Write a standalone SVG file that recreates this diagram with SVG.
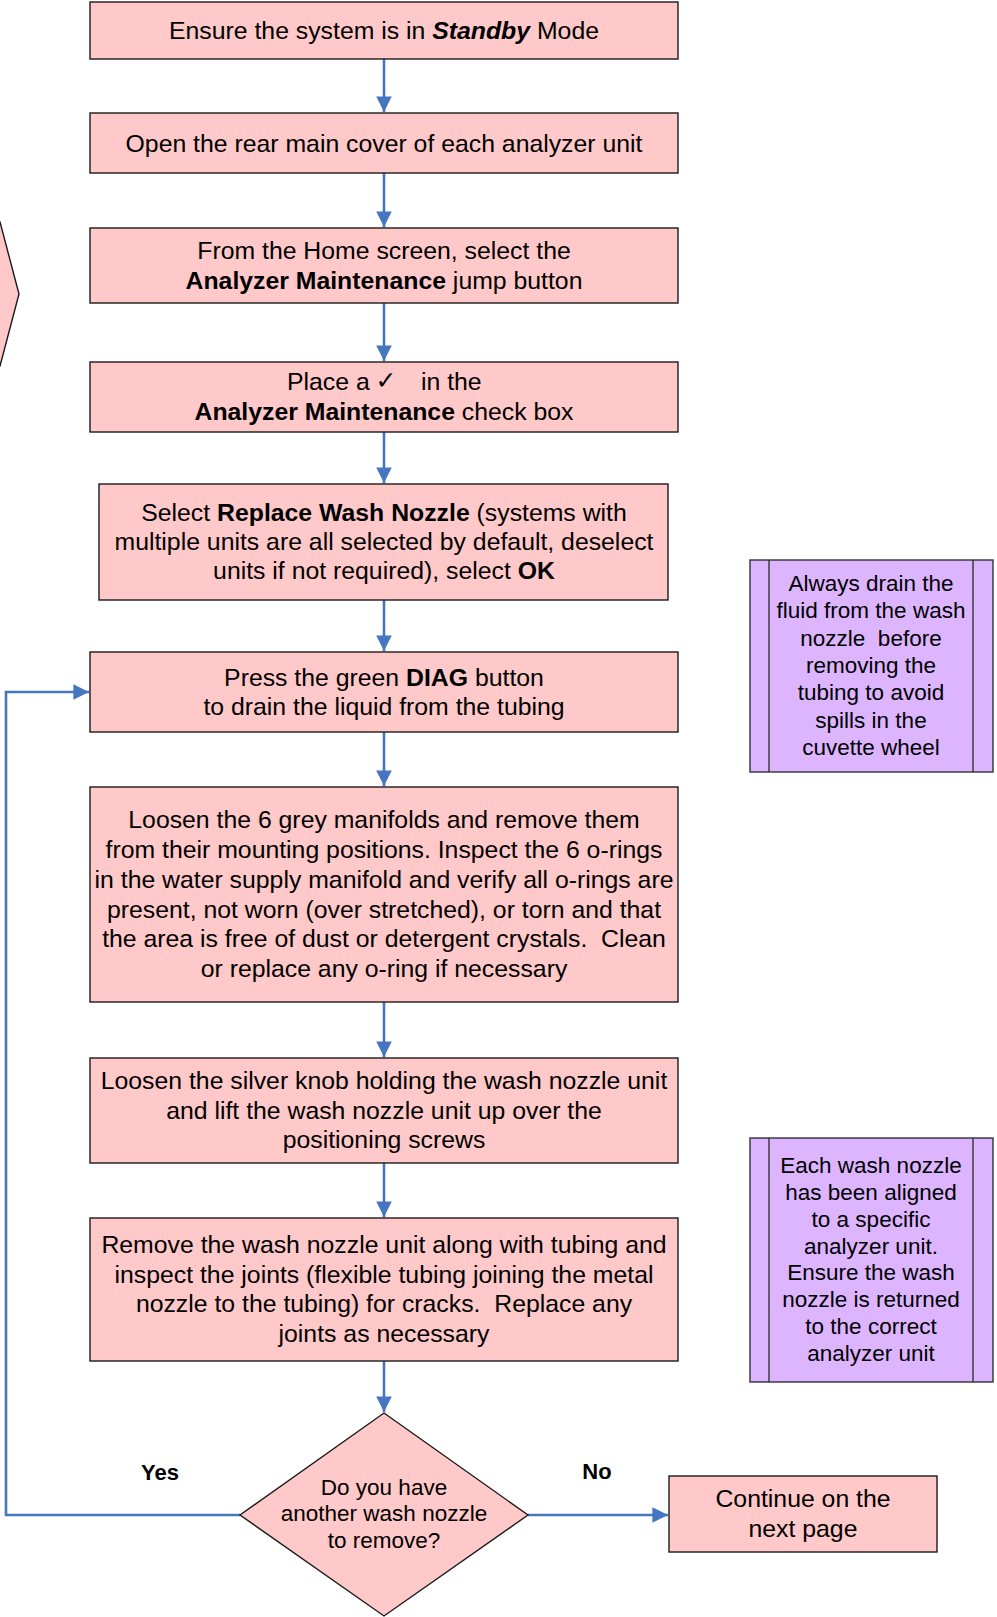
<svg xmlns="http://www.w3.org/2000/svg" width="997" height="1617" viewBox="0 0 997 1617">
<defs>
<style>
.box{fill:#FFC9C9;stroke:#1a1a1a;stroke-width:1.4}
.note{fill:#DDB5FF;stroke:#333;stroke-width:1.4}
.t{font-family:"Liberation Sans",Arial,sans-serif;font-size:24.8px;fill:#000;text-anchor:middle}
.s{font-family:"Liberation Sans",Arial,sans-serif;font-size:22.5px;fill:#000;text-anchor:middle}
.lbl{font-family:"Liberation Sans",Arial,sans-serif;font-size:22px;font-weight:bold;fill:#000;text-anchor:middle}
.b{font-weight:bold}
.c{fill:none;stroke:#4676C0;stroke-width:2.6}
</style>
<marker id="ah" viewBox="0 0 10 10" refX="10" refY="5" markerWidth="6" markerHeight="6" markerUnits="strokeWidth" orient="auto">
<path d="M0,0 L10,5 L0,10 Z" fill="#4676C0"/>
</marker>
</defs>
<rect width="997" height="1617" fill="#fff"/>

<g id="chevron">
<path d="M-10,222 L0,222 L19,294 L0,366 L-10,366 Z" class="box"/>
</g>

<g id="connectors">
<line class="c" x1="384" y1="59" x2="384" y2="112" marker-end="url(#ah)"/>
<line class="c" x1="384" y1="173" x2="384" y2="227" marker-end="url(#ah)"/>
<line class="c" x1="384" y1="303" x2="384" y2="361" marker-end="url(#ah)"/>
<line class="c" x1="384" y1="432" x2="384" y2="483" marker-end="url(#ah)"/>
<line class="c" x1="384" y1="600" x2="384" y2="651" marker-end="url(#ah)"/>
<line class="c" x1="384" y1="732" x2="384" y2="786" marker-end="url(#ah)"/>
<line class="c" x1="384" y1="1002" x2="384" y2="1057" marker-end="url(#ah)"/>
<line class="c" x1="384" y1="1163" x2="384" y2="1217" marker-end="url(#ah)"/>
<line class="c" x1="384" y1="1361" x2="384" y2="1412" marker-end="url(#ah)"/>
<polyline class="c" points="240,1515 6,1515 6,692 89,692" marker-end="url(#ah)"/>
<line class="c" x1="528" y1="1515" x2="668" y2="1515" marker-end="url(#ah)"/>
</g>

<g id="n1">
<rect class="box" x="90" y="2" width="588" height="57"/>
<text class="t" x="384" y="38.5">Ensure the system is in <tspan class="b" font-style="italic">Standby</tspan> Mode</text>
</g>
<g id="n2">
<rect class="box" x="90" y="113" width="588" height="60"/>
<text class="t" x="384" y="152">Open the rear main cover of each analyzer unit</text>
</g>
<g id="n3">
<rect class="box" x="90" y="228" width="588" height="75"/>
<text class="t" x="384" y="259">From the Home screen, select the</text>
<text class="t" x="384" y="289"><tspan class="b">Analyzer Maintenance</tspan> jump button</text>
</g>
<g id="n4">
<rect class="box" x="90" y="362" width="588" height="70"/>
<text class="t" x="287" y="390" style="text-anchor:start">Place a</text>
<text class="t" x="386" y="389" style="font-family:'DejaVu Sans',sans-serif;font-size:25px;font-weight:bold">✓</text>
<text class="t" x="421" y="390" style="text-anchor:start">in the</text>
<text class="t" x="384" y="420"><tspan class="b">Analyzer Maintenance</tspan> check box</text>
</g>
<g id="n5">
<rect class="box" x="99" y="484" width="569" height="116"/>
<text class="t" x="384" y="521">Select <tspan class="b">Replace Wash Nozzle</tspan> (systems with</text>
<text class="t" x="384" y="550">multiple units are all selected by default, deselect</text>
<text class="t" x="384" y="579">units if not required), select <tspan class="b">OK</tspan></text>
</g>
<g id="n6">
<rect class="box" x="90" y="652" width="588" height="80"/>
<text class="t" x="384" y="686">Press the green <tspan class="b">DIAG</tspan> button</text>
<text class="t" x="384" y="715">to drain the liquid from the tubing</text>
</g>
<g id="n7">
<rect class="box" x="90" y="787" width="588" height="215"/>
<text class="t" x="384" y="828">Loosen the 6 grey manifolds and remove them</text>
<text class="t" x="384" y="858">from their mounting positions. Inspect the 6 o-rings</text>
<text class="t" x="384" y="888">in the water supply manifold and verify all o-rings are</text>
<text class="t" x="384" y="918">present, not worn (over stretched), or torn and that</text>
<text class="t" x="384" y="947" xml:space="preserve">the area is free of dust or detergent crystals.  Clean</text>
<text class="t" x="384" y="977">or replace any o-ring if necessary</text>
</g>
<g id="n8">
<rect class="box" x="90" y="1058" width="588" height="105"/>
<text class="t" x="384" y="1089">Loosen the silver knob holding the wash nozzle unit</text>
<text class="t" x="384" y="1119">and lift the wash nozzle unit up over the</text>
<text class="t" x="384" y="1148">positioning screws</text>
</g>
<g id="n9">
<rect class="box" x="90" y="1218" width="588" height="143"/>
<text class="t" x="384" y="1253">Remove the wash nozzle unit along with tubing and</text>
<text class="t" x="384" y="1283">inspect the joints (flexible tubing joining the metal</text>
<text class="t" x="384" y="1312" xml:space="preserve">nozzle to the tubing) for cracks.  Replace any</text>
<text class="t" x="384" y="1342">joints as necessary</text>
</g>
<g id="decision">
<polygon class="box" points="384,1413 528,1515 384,1616 240,1515"/>
<text class="s" x="384" y="1494.5">Do you have</text>
<text class="s" x="384" y="1521.3">another wash nozzle</text>
<text class="s" x="384" y="1548">to remove?</text>
</g>
<g id="lblYes"><text class="lbl" x="160" y="1480">Yes</text></g>
<g id="lblNo"><text class="lbl" x="597" y="1479">No</text></g>
<g id="n10">
<rect class="box" x="669" y="1476" width="268" height="76"/>
<text class="t" x="803" y="1506.5">Continue on the</text>
<text class="t" x="803" y="1536.5">next page</text>
</g>
<g id="note1">
<rect class="note" x="750" y="560" width="243" height="212"/>
<line x1="769" y1="560" x2="769" y2="772" stroke="#333" stroke-width="1.4"/>
<line x1="973" y1="560" x2="973" y2="772" stroke="#333" stroke-width="1.4"/>
<text class="s" x="871" y="591">Always drain the</text>
<text class="s" x="871" y="618.3">fluid from the wash</text>
<text class="s" x="871" y="645.6" xml:space="preserve">nozzle  before</text>
<text class="s" x="871" y="672.9">removing the</text>
<text class="s" x="871" y="700.2">tubing to avoid</text>
<text class="s" x="871" y="727.5">spills in the</text>
<text class="s" x="871" y="754.8">cuvette wheel</text>
</g>
<g id="note2">
<rect class="note" x="750" y="1138" width="243" height="244"/>
<line x1="769" y1="1138" x2="769" y2="1382" stroke="#333" stroke-width="1.4"/>
<line x1="973" y1="1138" x2="973" y2="1382" stroke="#333" stroke-width="1.4"/>
<text class="s" x="871" y="1172.8">Each wash nozzle</text>
<text class="s" x="871" y="1199.7">has been aligned</text>
<text class="s" x="871" y="1226.6">to a specific</text>
<text class="s" x="871" y="1253.5">analyzer unit.</text>
<text class="s" x="871" y="1280.4">Ensure the wash</text>
<text class="s" x="871" y="1307.3">nozzle is returned</text>
<text class="s" x="871" y="1334.2">to the correct</text>
<text class="s" x="871" y="1361.1">analyzer unit</text>
</g>
</svg>
